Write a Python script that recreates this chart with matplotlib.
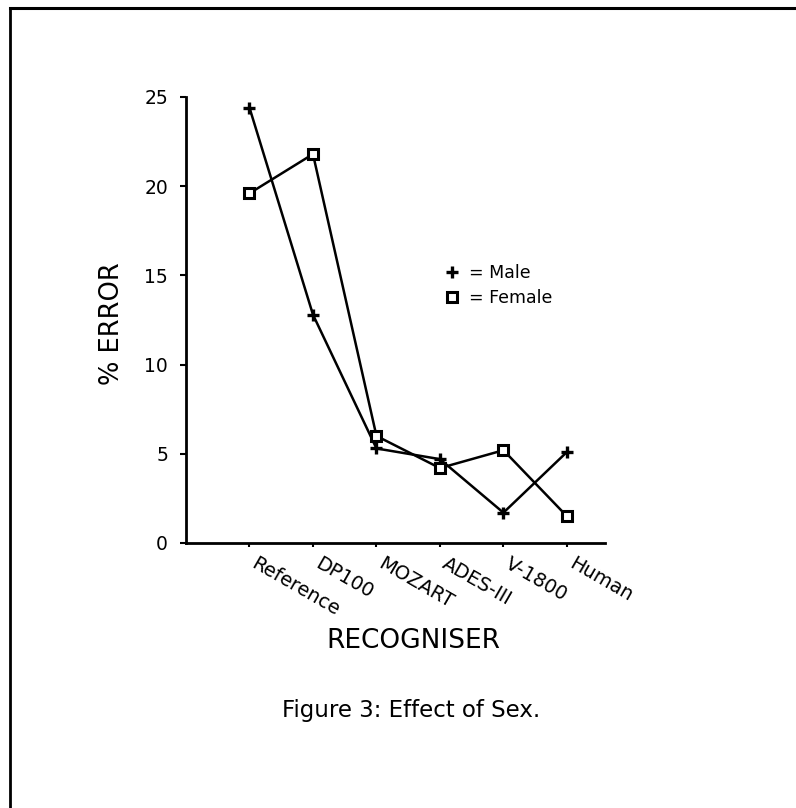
import matplotlib
matplotlib.use('Agg')
import matplotlib.pyplot as plt
from matplotlib.lines import Line2D
from matplotlib.transforms import ScaledTranslation

recognisers = ['Reference', 'DP100', 'MOZART', 'ADES-III', 'V-1800', 'Human']
male = [24.4, 12.8, 5.3, 4.7, 1.7, 5.1]
female = [19.6, 21.8, 6.0, 4.2, 5.2, 1.5]
yticks = [0, 5, 10, 15, 20, 25]

W, H = 796, 808
fig = plt.figure(figsize=(W / 100, H / 100), dpi=100)
fig.patch.set_facecolor('white')

# page border (top and left edges)
fig.add_artist(Line2D([10 / W, 1.0], [1 - 8 / H, 1 - 8 / H], color='black', lw=2.2,
                      transform=fig.transFigure))
fig.add_artist(Line2D([10 / W, 10 / W], [1 - 8 / H, 0.0], color='black', lw=2.0,
                      transform=fig.transFigure))

ax = fig.add_axes([186 / W, 1 - 543 / H, (605 - 186) / W, (543 - 97) / H])
x = list(range(len(recognisers)))
lm, = ax.plot(x, male, color='black', lw=1.8, marker='+', ms=9, mew=2.4)
lf, = ax.plot(x, female, color='black', lw=1.8, marker='s', ms=7, mfc='white',
              mec='black', mew=2.2)

ax.set_xlim(-1, 5.6)
ax.set_ylim(0, 25)
for s in ['top', 'right']:
    ax.spines[s].set_visible(False)
for s in ['left', 'bottom']:
    ax.spines[s].set_linewidth(2.0)

ax.set_yticks(yticks)
ax.set_yticklabels([str(v) for v in yticks], fontsize=13.5)
ax.tick_params(axis='y', direction='out', length=4, width=1.5, pad=9)
ax.set_xticks(x)
ax.set_xticklabels(recognisers, fontsize=14, rotation=-30, ha='left', va='top',
                   rotation_mode='anchor')
ax.tick_params(axis='x', direction='out', length=3, width=1.5, pad=5)
off = ScaledTranslation(6 / 72, 0, fig.dpi_scale_trans)
for lab in ax.get_xticklabels():
    lab.set_transform(lab.get_transform() + off)

fig.text(112 / W, 1 - 324 / H, '% ERROR', rotation=90, ha='center', va='center',
         fontsize=18.5)
fig.text(413 / W, 1 - 641 / H, 'RECOGNISER', ha='center', va='center', fontsize=19)
fig.text(411 / W, 1 - 710 / H, 'Figure 3: Effect of Sex.', ha='center', va='center',
         fontsize=16.5)

ax.legend([lm, lf], ['= Male', '= Female'], frameon=False, handlelength=1.0,
          handletextpad=0.45, borderpad=0, borderaxespad=0, labelspacing=0.4,
          fontsize=12.5, loc='upper left',
          bbox_to_anchor=(443.6 / W, 1 - 264 / H), bbox_transform=fig.transFigure)
for h in ax.get_legend().legend_handles:
    h.set_linestyle('none')

fig.savefig('out.png', dpi=100, facecolor='white')
